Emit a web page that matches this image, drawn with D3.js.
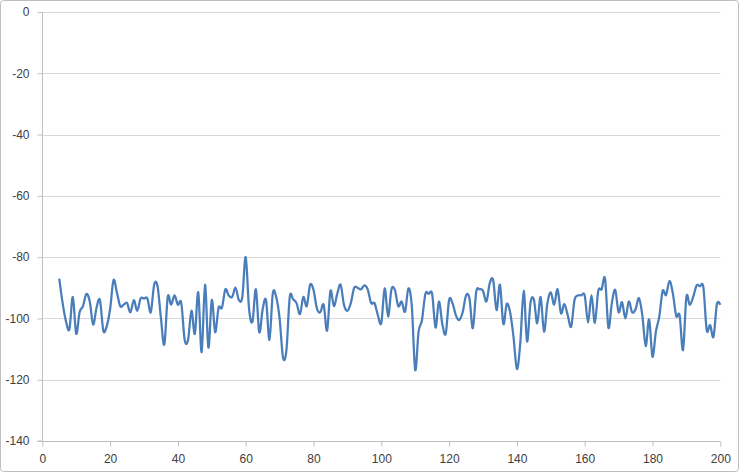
<!DOCTYPE html>
<html><head><meta charset="utf-8">
<script src="https://cdn.jsdelivr.net/npm/d3@7"></script>
<style>html,body{margin:0;padding:0;background:#fff}svg{display:block}</style>
</head><body><svg id="c" width="739" height="472"></svg>
<script>
const xValues = [5,6,7,8,9,10,11,12,13,14,15,16,17,18,19,20,21,22,23,24,25,26,27,28,29,30,31,32,33,34,35,36,37,38,39,40,41,42,43,44,45,46,47,48,49,50,51,52,53,54,55,56,57,58,59,60,61,62,63,64,65,66,67,68,69,70,71,72,73,74,75,76,77,78,79,80,81,82,83,84,85,86,87,88,89,90,91,92,93,94,95,96,97,98,99,100,101,102,103,104,105,106,107,108,109,110,111,112,113,114,115,116,117,118,119,120,121,122,123,124,125,126,127,128,129,130,131,132,133,134,135,136,137,138,139,140,141,142,143,144,145,146,147,148,149,150,151,152,153,154,155,156,157,158,159,160,161,162,163,164,165,166,167,168,169,170,171,172,173,174,175,176,177,178,179,180,181,182,183,184,185,186,187,188,189,190,191,192,193,194,195,196,197,198,199,200];
const yValues = [-87,-95,-101,-103.5,-93,-105,-98,-96,-92,-94.5,-102,-96.5,-94,-104,-102.5,-97,-87.5,-91.5,-96,-95.5,-95,-98,-94,-97.5,-93.5,-93.5,-93.5,-98,-89,-89.5,
-100,-108.5,-93,-95.5,-92.5,-95.5,-95,-107,-107,-97.5,-105,-91.5,-111,-89,-109.5,-94,-104.5,-96.5,-96.5,-90.5,-92.5,-93,-90,-94,-93,-80,-97,-101,-90.5,-104.5,
-97,-94,-107,-91.8,-93,-100,-112.7,-110.5,-93,-93.8,-95,-98.6,-93,-96,-89,-90.7,-96.7,-98,-95.5,-104,-91,-96,-92,-89,-95.6,-97.5,-95,-90,-90,-90.5,
-89.2,-90.5,-95,-95,-99,-101.5,-90.2,-99.4,-90.5,-90.7,-96,-94.5,-97.8,-90.2,-96,-116.8,-104.3,-100.5,-92,-92,-92,-103,-94.5,-101.8,-105,-94,-95,-99,-100.5,-98,
-92.5,-93.4,-103.2,-91.3,-90.5,-91,-94.5,-88.5,-87.5,-97.3,-89,-101.8,-95.3,-98,-106,-116.5,-108,-91,-107.5,-95,-93.8,-101.6,-93,-104.3,-95,-91.5,-95.5,-90.5,-98.3,-95.3,
-99,-102.7,-94,-92.5,-92.5,-92.5,-101.4,-92.4,-101.4,-91,-90.5,-87,-103,-95,-90.7,-98,-94.7,-100,-94.5,-98,-97,-93.4,-99,-109,-100.3,-112.5,-104.3,-99.4,-91,-92.4,
-87.8,-91.8,-99.2,-99,-110.3,-93,-95.6,-93,-89.3,-89.5,-89.8,-103.8,-102.2,-106,-95.3,-95.6];
const xTicks = [0,20,40,60,80,100,120,140,160,180,200];
const yTicks = [0,-20,-40,-60,-80,-100,-120,-140];

const svg = d3.select("#c");
svg.append("rect").attr("x",0.5).attr("y",0.5).attr("width",738).attr("height",471)
  .attr("rx",3).attr("fill","#fff").attr("stroke","#BFBFBF");

const x = d3.scaleLinear().domain([0,200]).range([42.3,720.3]);
const y = d3.scaleLinear().domain([-140,0]).range([441,12]);
const font = "'Liberation Sans', Arial, sans-serif";

// gridlines
svg.append("g").selectAll("line").data(yTicks.filter(d=>d!==-140)).join("line")
  .attr("x1",x(0)).attr("x2",x(200))
  .attr("y1",d=>Math.round(y(d))+0.5).attr("y2",d=>Math.round(y(d))+0.5)
  .attr("stroke","#D9D9D9").attr("stroke-width",1);

const fmt = d => String(d);
// y axis
const yAxis = svg.append("g").attr("transform",`translate(${Math.round(x(0))+0.5},0)`)
  .call(d3.axisLeft(y).tickValues(yTicks).tickSize(5).tickPadding(8).tickFormat(fmt));
// x axis
const xAxis = svg.append("g").attr("transform",`translate(0,${Math.round(y(-140))+0.5})`)
  .call(d3.axisBottom(x).tickValues(xTicks).tickSize(5).tickPadding(8).tickFormat(fmt));
[yAxis,xAxis].forEach(g=>{
  g.select(".domain").attr("stroke","#BFBFBF");
  g.selectAll(".tick line").attr("stroke","#BFBFBF");
  g.selectAll(".tick text").attr("fill","#404040").style("font-family",font).style("font-size","12px");
});
yAxis.select(".domain").attr("d",`M-5,${y(-140)}H0V${y(0)}H0`);
xAxis.select(".domain").attr("d",`M${x(0)},0H${x(200)}`);

const data = xValues.map((v,i)=>[v,yValues[i]]);
svg.append("path").datum(data)
  .attr("fill","none").attr("stroke","#4A7EBB").attr("stroke-width",2.25)
  .attr("stroke-linejoin","round")
  .attr("d", d3.line().x(d=>x(d[0])).y(d=>y(d[1])).curve(d3.curveCardinal.tension(0)));
</script></body></html>
